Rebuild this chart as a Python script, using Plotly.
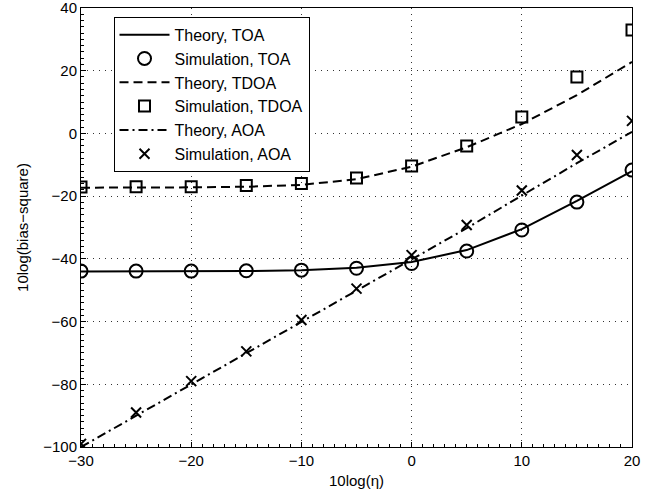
import plotly.graph_objects as go

# SNR axis values, 10log(eta)
eta_db = [-30, -25, -20, -15, -10, -5, 0, 5, 10, 15, 20]

# 10log(bias^2) for each localisation scheme
toa_theory = [-44.0, -44.0, -44.0, -43.9, -43.6, -42.8, -41.0, -37.2, -30.5, -21.5, -12.0]
toa_sim = [-43.9, -43.9, -43.9, -43.8, -43.6, -43.0, -41.5, -37.5, -30.8, -21.9, -11.7]
tdoa_theory = [-17.3, -17.3, -17.2, -17.0, -16.4, -14.6, -10.6, -4.4, 3.0, 12.2, 22.8]
tdoa_sim = [-17.1, -17.0, -17.0, -16.6, -16.0, -14.2, -10.4, -4.0, 5.2, 18.0, 33.0]
aoa_theory = [-100.0, -90.0, -80.0, -70.0, -60.0, -50.0, -40.0, -30.2, -19.8, -9.5, 0.5]
aoa_sim = [-99.0, -89.0, -79.0, -69.5, -59.5, -49.5, -38.8, -29.2, -18.2, -6.9, 4.0]

x_ticks = [-30, -20, -10, 0, 10, 20]
y_ticks = [-100, -80, -60, -40, -20, 0, 20, 40]

FONT = "Liberation Sans, Arial, sans-serif"
DASH = "9px,5px"
DASHDOT = "9px,4px,2px,4px"

fig = go.Figure()

fig.add_trace(go.Scatter(x=eta_db, y=toa_theory, mode="lines", name="Theory, TOA",
                         line=dict(color="black", width=2)))
fig.add_trace(go.Scatter(x=eta_db, y=toa_sim, mode="markers", name="Simulation, TOA",
                         marker=dict(symbol="circle-open", size=13, color="black",
                                     line=dict(width=2, color="black"))))
fig.add_trace(go.Scatter(x=eta_db, y=tdoa_theory, mode="lines", name="Theory, TDOA",
                         line=dict(color="black", width=2, dash=DASH)))
fig.add_trace(go.Scatter(x=eta_db, y=tdoa_sim, mode="markers", name="Simulation, TDOA",
                         marker=dict(symbol="square-open", size=11, color="black",
                                     line=dict(width=2, color="black"))))
fig.add_trace(go.Scatter(x=eta_db, y=aoa_theory, mode="lines", name="Theory, AOA",
                         line=dict(color="black", width=2, dash=DASHDOT)))
fig.add_trace(go.Scatter(x=eta_db, y=aoa_sim, mode="markers", name="Simulation, AOA",
                         marker=dict(symbol="x-thin-open", size=10, color="black",
                                     line=dict(width=2, color="black"))))

axis_common = dict(
    showline=True, linecolor="black", linewidth=1, mirror=True,
    ticks="inside", ticklen=5, tickcolor="black",
    showgrid=True, gridcolor="#333333", gridwidth=1, griddash="1px,5px",
    zeroline=False, ticklabeloverflow="allow", automargin=False,
    tickfont=dict(family=FONT, size=15, color="black"),
)

fig.update_xaxes(
    range=[-30, 20], tickvals=x_ticks,
    ticktext=[str(v).replace("-", "\u2212") for v in x_ticks],
    title=dict(text="10log(\u03b7)", font=dict(family=FONT, size=15, color="black"), standoff=7),
    minor=dict(ticks="inside", ticklen=3, dtick=1, tickcolor="black", showgrid=False),
    **axis_common,
)
fig.update_yaxes(
    range=[-100, 40], tickvals=y_ticks,
    ticktext=[str(v).replace("-", "\u2212") for v in y_ticks],
    title=dict(text="10log(bias\u2212square)", font=dict(family=FONT, size=15, color="black"), standoff=10),
    minor=dict(ticks="inside", ticklen=3, dtick=2, tickcolor="black", showgrid=False),
    **axis_common,
)

fig.update_layout(
    width=647, height=500,
    margin=dict(l=81, r=15, t=8, b=53, autoexpand=False),
    paper_bgcolor="white", plot_bgcolor="white",
    font=dict(family=FONT, size=15, color="black"),
    legend=dict(
        x=0.059, y=0.98, xanchor="left", yanchor="top",
        bgcolor="white", bordercolor="black", borderwidth=1,
        font=dict(family=FONT, size=16, color="black"),
        itemwidth=50, tracegroupgap=0,
    ),
    showlegend=True,
)

fig.write_html("out.html")
